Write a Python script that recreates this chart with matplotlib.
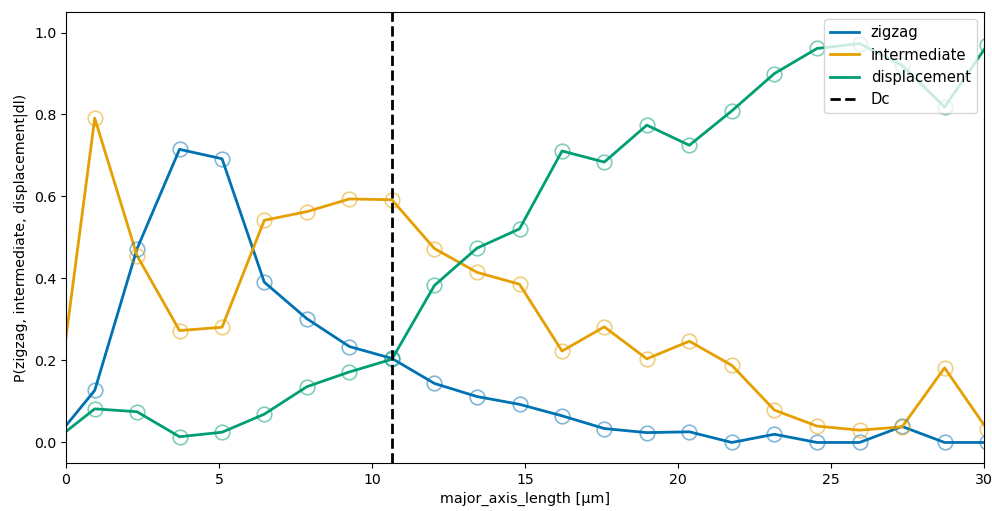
import matplotlib
matplotlib.use("Agg")
import matplotlib.pyplot as plt

# bin centres of major_axis_length [um]; first bin is empty (all zeros), clipped at x=0
x = [-0.45, 0.94, 2.32, 3.71, 5.10, 6.48, 7.87, 9.26, 10.65, 12.04, 13.43, 14.82,
     16.21, 17.59, 18.98, 20.37, 21.76, 23.15, 24.54, 25.93, 27.32, 28.71, 30.10]
zigzag = [0.0, 0.127, 0.472, 0.715, 0.692, 0.391, 0.302, 0.234, 0.205, 0.144, 0.112, 0.093,
          0.065, 0.034, 0.024, 0.026, 0.0, 0.020, 0.0, 0.0, 0.039, 0.0, 0.0]
intermediate = [0.0, 0.791, 0.456, 0.273, 0.281, 0.542, 0.563, 0.594, 0.592, 0.473, 0.415, 0.386,
                0.223, 0.282, 0.204, 0.247, 0.188, 0.079, 0.040, 0.030, 0.038, 0.182, 0.032]
displacement = [0.0, 0.082, 0.075, 0.014, 0.025, 0.069, 0.136, 0.172, 0.203, 0.383, 0.474, 0.521,
                0.711, 0.684, 0.774, 0.725, 0.809, 0.900, 0.961, 0.973, 0.920, 0.818, 0.969]
Dc = 10.66

colors = {"zigzag": "#0072b2", "intermediate": "#e69f00", "displacement": "#009e73"}
series = {"zigzag": zigzag, "intermediate": intermediate, "displacement": displacement}

fig = plt.figure(figsize=(9.92, 5.11), dpi=100)
ax = fig.add_axes([0.0665, 0.094, 0.9255, 0.8825])

for name, y in series.items():
    ax.plot(x, y, "-", color=colors[name], lw=2, label=name)
for name, y in series.items():
    ax.plot(x[1:], y[1:], "o", ms=10.5, mfc="none", mec=colors[name], mew=1.2, alpha=0.5)

ax.axvline(Dc, color="black", ls="--", lw=2, label="Dc")
ax.set_xlim(0, 30)
ax.set_ylim(-0.05, 1.05)
ax.set_xlabel("major_axis_length [µm]", fontsize=10.4)
ax.set_ylabel("P(zigzag, intermediate, displacement|dl)", fontsize=10.2)
ax.tick_params(labelsize=10.2)
ax.legend(loc="upper right", fontsize=10.6)
fig.savefig("out.png", dpi=100)
